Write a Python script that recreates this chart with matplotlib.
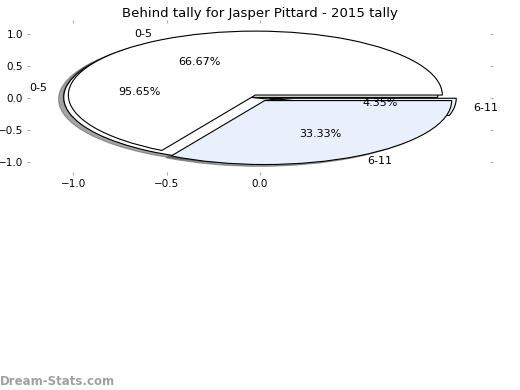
import matplotlib
matplotlib.use("Agg")
import matplotlib.pyplot as plt

title = "Behind tally for Jasper Pittard - 2015 tally"
labels = ["0-5", "6-11"]
# first pie: 22 / 1
pcts_a = [95.65, 4.35]
# second pie
pcts_b = [66.67, 33.33]
colors = ["white", "#eaf0fb"]
explode = [0.05, 0.05]

fig = plt.figure(figsize=(5.2, 3.9), dpi=100)
ax = fig.add_axes([30 / 520, 0.559, 460 / 520, 0.382])

wprops = {"edgecolor": "black", "linewidth": 0.8}
ax.pie(pcts_a, labels=labels, colors=colors, explode=explode, shadow=True,
       autopct="%1.2f%%", wedgeprops=wprops, frame=True,
       textprops={"fontsize": 8})
ax.pie(pcts_b, labels=labels, colors=colors, explode=explode, shadow=True,
       autopct="%1.2f%%", wedgeprops=wprops, frame=True,
       textprops={"fontsize": 8})

ax.set_aspect("auto")
ax.set_xlim(-1.23, 1.23)
ax.set_ylim(-1.16, 1.17)
ax.set_xticks([-1.0, -0.5, 0.0])
ax.set_yticks([-1.0, -0.5, 0.0, 0.5, 1.0])
for s in ax.spines.values():
    s.set_visible(False)
ax.tick_params(colors="#b0b0b0", labelcolor="black", labelsize=7.5,
               top=True, right=True, length=2.5, pad=2.5)
ax.set_title(title, fontsize=9.5, pad=4)

fig.text(0.0, 0.012, "Dream-Stats.com", color="#a0a0a0", fontsize=8.5,
         fontweight="bold")

fig.savefig("out.png", dpi=100)
